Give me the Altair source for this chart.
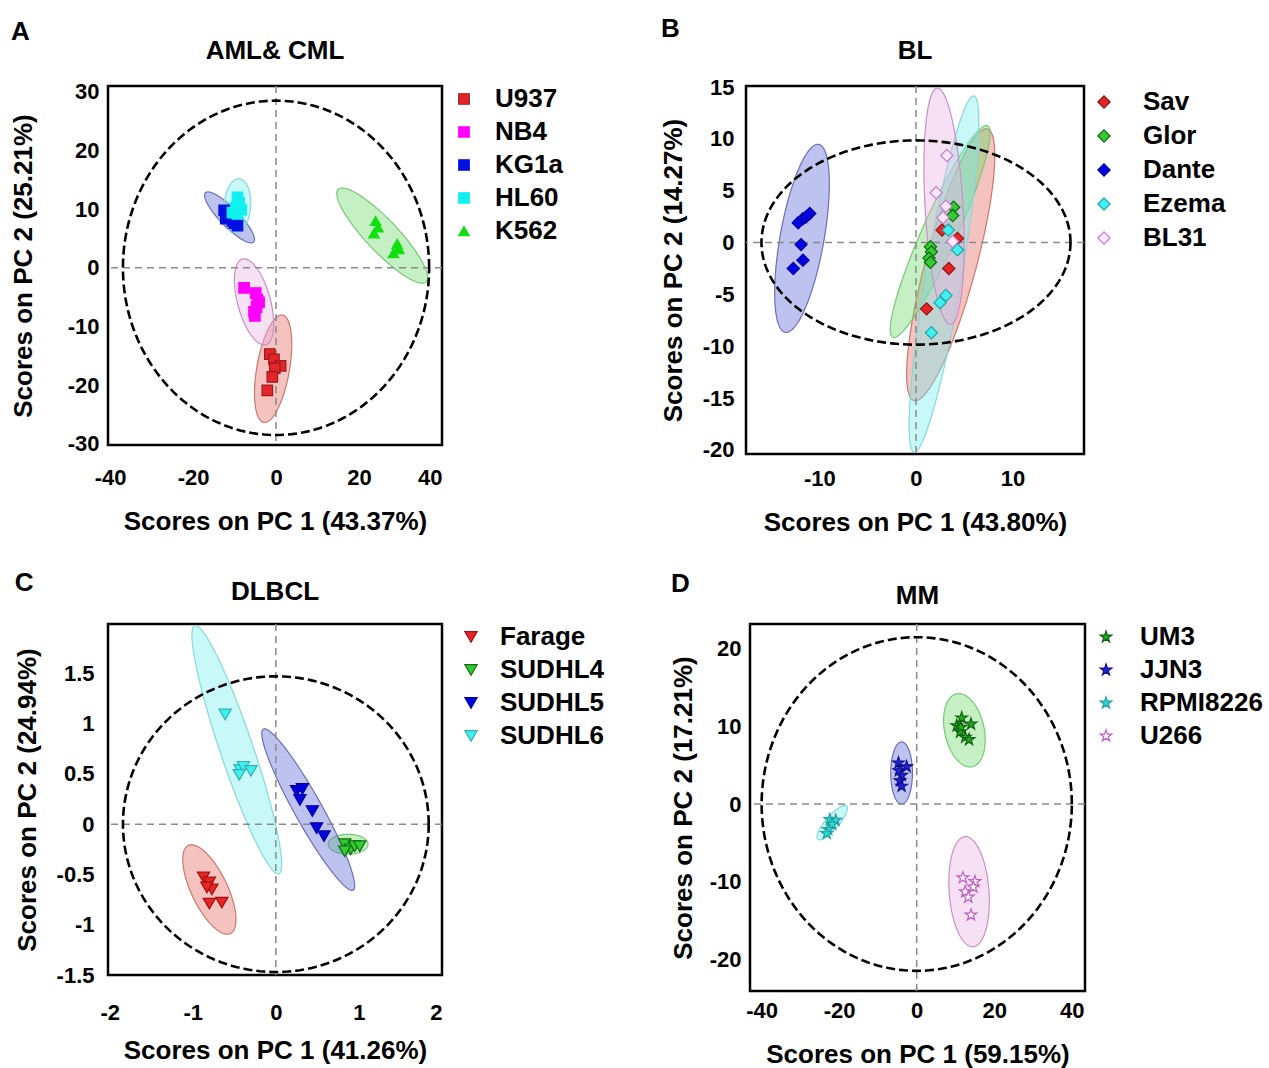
import altair as alt
import numpy as np
import pandas as pd

FONT = "Liberation Sans"

# ---------------- Panel A : AML & CML ----------------
A_groups = ["U937", "NB4", "KG1a", "HL60", "K562"]
A_U937_x = [-1.5, -0.5, 1.1, -0.3, -0.9, -2.1]
A_U937_y = [-14.7, -15.6, -16.7, -17.1, -18.6, -20.9]
A_NB4_x = [-7.7, -4.9, -4.5, -4.1, -4.7, -5.3, -5.1]
A_NB4_y = [-3.4, -4.3, -5.4, -5.9, -6.7, -7.5, -8.2]
A_KG1a_x = [-12.5, -11.6, -12.1, -10.5, -9.3, -10.0]
A_KG1a_y = [9.8, 9.2, 8.4, 8.0, 7.2, 7.6]
A_HL60_x = [-9.3, -8.9, -9.7, -8.4, -9.3, -10.5]
A_HL60_y = [12.0, 11.1, 10.3, 9.9, 9.2, 9.4]
A_K562_x = [24.0, 24.6, 23.6, 29.2, 29.6, 28.3]
A_K562_y = [8.0, 6.9, 5.9, 4.1, 3.2, 2.5]
# confidence ellipses: centre, major semi-axis vector, minor/major ratio
A_ell_cx = [-0.7, -5.3, -11.2, -9.3, 25.6]
A_ell_cy = [-17.2, -5.8, 8.6, 10.6, 5.5]
A_ell_ux = [2.25, -2.8, -5.8, 0.4, 10.6]
A_ell_uy = [9.15, 7.3, 4.2, 4.6, -7.9]
A_ell_ratio = [0.3, 0.37, 0.27, 0.49, 0.25]
A_outer = [36.9, 28.5]
A_xdom = [-40.5, 40]
A_ydom = [-30.2, 31]
A_xticks = [-40, -20, 0, 20, 40]
A_yticks = [-30, -20, -10, 0, 10, 20, 30]

# ---------------- Panel B : BL ----------------
B_groups = ["Sav", "Glor", "Dante", "Ezema", "BL31"]
B_Sav_x = [2.7, 4.3, 3.4, 1.1]
B_Sav_y = [1.2, 0.4, -2.5, -6.4]
B_Glor_x = [3.9, 3.8, 1.5, 1.6, 1.35, 1.5]
B_Glor_y = [3.4, 2.6, -0.4, -0.9, -1.5, -1.9]
B_Dante_x = [-12.2, -11.7, -11.4, -11.0, -11.9, -11.7, -12.7]
B_Dante_y = [1.9, 2.3, 2.45, 2.8, -0.2, -1.7, -2.5]
B_Ezema_x = [3.35, 4.3, 3.1, 2.5, 1.6]
B_Ezema_y = [1.2, -0.7, -5.1, -5.8, -8.7]
B_BL31_x = [3.2, 2.1, 3.1, 2.8, 3.8]
B_BL31_y = [8.4, 4.8, 3.5, 2.4, 0.1]
B_ell_cx = [3.6, 2.5, -11.8, 2.9, 2.9]
B_ell_cy = [-2.15, 1.06, 0.4, -3.05, 3.5]
B_ell_ux = [3.8, 4.9, 1.73, 3.1, -0.69]
B_ell_uy = [13.1, 10.2, 9.07, 17.2, 11.4]
B_ell_ratio = [0.18, 0.15, 0.23, 0.1, 0.16]
B_outer = [16.0, 9.85]
B_xdom = [-17.6, 17.4]
B_ydom = [-20.4, 15.1]
B_xticks = [-10, 0, 10]
B_yticks = [-20, -15, -10, -5, 0, 5, 10, 15]

# ---------------- Panel C : DLBCL ----------------
C_groups = ["Farage", "SUDHL4", "SUDHL5", "SUDHL6"]
C_Farage_x = [-0.87, -0.80, -0.77, -0.83, -0.80, -0.65]
C_Farage_y = [-0.53, -0.58, -0.65, -0.63, -0.79, -0.78]
C_SUDHL4_x = [0.83, 0.90, 0.95, 1.01, 0.83]
C_SUDHL4_y = [-0.20, -0.25, -0.22, -0.22, -0.27]
C_SUDHL5_x = [0.25, 0.32, 0.29, 0.44, 0.49, 0.58]
C_SUDHL5_y = [0.33, 0.35, 0.24, 0.13, -0.04, -0.12]
C_SUDHL6_x = [-0.61, -0.43, -0.39, -0.30, -0.44]
C_SUDHL6_y = [1.09, 0.54, 0.57, 0.53, 0.49]
C_ell_cx = [-0.80, 0.87, 0.39, -0.47]
C_ell_cy = [-0.65, -0.20, 0.145, 0.74]
C_ell_ux = [-0.253, 0.24, -0.54, -0.506]
C_ell_uy = [0.438, 0.0, 0.80, 1.234]
C_ell_ratio = [0.37, 0.5, 0.15, 0.126]
C_outer = [1.84, 1.47]
C_xdom = [-2.02, 2.0]
C_ydom = [-1.5, 1.99]
C_xticks = [-2, -1, 0, 1, 2]
C_yticks = [-1.5, -1, -0.5, 0, 0.5, 1, 1.5, 2]

# ---------------- Panel D : MM ----------------
D_groups = ["UM3", "JJN3", "RPMI8226", "U266"]
D_UM3_x = [11.6, 10.3, 14.0, 11.2, 12.5, 13.5, 11.4]
D_UM3_y = [11.1, 10.1, 10.3, 9.3, 8.6, 8.3, 9.9]
D_JJN3_x = [-4.7, -2.6, -4.6, -3.9, -4.3, -3.9]
D_JJN3_y = [5.3, 4.8, 4.3, 3.7, 3.0, 2.3]
D_RPMI8226_x = [-22.4, -20.9, -21.8, -22.8, -23.2]
D_RPMI8226_y = [-2.0, -2.1, -2.6, -3.3, -3.8]
D_U266_x = [11.9, 15.0, 14.6, 12.5, 13.3, 14.0]
D_U266_y = [-9.5, -10.0, -10.7, -11.3, -12.0, -14.3]
D_ell_cx = [12.3, -3.9, -21.8, 13.5]
D_ell_cy = [9.5, 4.0, -2.4, -11.3]
D_ell_ux = [-2.0, 0.0, 3.7, -1.03]
D_ell_uy = [4.7, 4.0, 2.15, 7.1]
D_ell_ratio = [0.53, 0.35, 0.3, 0.36]
D_outer = [40.0, 21.5]
D_xdom = [-43.0, 43.4]
D_ydom = [-24.1, 23.2]
D_xticks = [-40, -20, 0, 20, 40]
D_yticks = [-20, -10, 0, 10, 20]

STAR = ("M0,-1L0.2245,-0.309L0.951,-0.309L0.363,0.118L0.588,0.809L0,0.382"
        "L-0.588,0.809L-0.363,0.118L-0.951,-0.309L-0.2245,-0.309Z")

# pale ellipse colours (drawn at 0.4 opacity) and outlines
E_RED, S_RED = "#E5685E", "#C87870"
E_MAG, S_MAG = "#E8B2E4", "#C890C8"
E_BLU, S_BLU = "#5C66D4", "#6C70B0"
E_CYA, S_CYA = "#76EEEE", "#88D8D8"
E_GRN, S_GRN = "#6CD96C", "#78C878"

IND = dict(x="independent", y="independent", shape="independent",
           fill="independent", stroke="independent")


def ellipse_band(cx, cy, ux, uy, ratio, kx, ky, n=90):
    pux, puy = ux * kx, uy * ky
    vx, vy = (-puy * ratio) / kx, (pux * ratio) / ky
    R = np.hypot(ux, vx)
    phi = np.arctan2(vx, ux)
    s = np.linspace(0, np.pi, n)
    xs = cx + R * np.cos(s)
    t1, t2 = phi + s, phi - s
    y1 = cy + uy * np.cos(t1) + vy * np.sin(t1)
    y2 = cy + uy * np.cos(t2) + vy * np.sin(t2)
    return pd.DataFrame({"x": xs, "y": np.maximum(y1, y2), "y2": np.minimum(y1, y2)})


def make_panel(title, groups, xs, ys, ell, outer, xdom, ydom, xticks, yticks,
               xtitle, ytitle, width, height, shapes, fills, strokes, efills,
               estrokes, size, lay):
    kx = width / (xdom[1] - xdom[0])
    ky = height / (ydom[1] - ydom[0])
    xsc = alt.Scale(domain=xdom, nice=False, zero=False)
    ysc = alt.Scale(domain=ydom, nice=False, zero=False)
    xax = alt.Axis(values=xticks, title=xtitle, labelExpr="'' + datum.value",
                   labelPadding=lay["xlp"], titlePadding=lay["xtp"])
    yax = alt.Axis(values=yticks, title=ytitle, labelExpr="'' + datum.value",
                   labelPadding=lay["ylp"], titlePadding=lay["ytp"])
    layers = []
    cx, cy, ux, uy, rr = ell
    for i, g in enumerate(groups):
        band = ellipse_band(cx[i], cy[i], ux[i], uy[i], rr[i], kx, ky)
        layers.append(
            alt.Chart(band).mark_area(
                fill=efills[i], fillOpacity=0.4, stroke=estrokes[i],
                strokeWidth=1.2, clip=True
            ).encode(
                x=alt.X("x:Q", scale=xsc, axis=xax),
                y=alt.Y("y:Q", scale=ysc, axis=yax),
                y2="y2:Q",
            )
        )
    zero_v = pd.DataFrame({"x": [0]})
    zero_h = pd.DataFrame({"y": [0]})
    layers.append(alt.Chart(zero_v).mark_rule(color="#8a8a8a", strokeDash=[7, 5],
                                              strokeWidth=1.5).encode(x=alt.X("x:Q", scale=xsc)))
    layers.append(alt.Chart(zero_h).mark_rule(color="#8a8a8a", strokeDash=[7, 5],
                                              strokeWidth=1.5).encode(y=alt.Y("y:Q", scale=ysc)))
    t = np.linspace(0, 2 * np.pi, 241)
    circ = pd.DataFrame({"x": outer[0] * np.cos(t), "y": outer[1] * np.sin(t), "o": np.arange(len(t))})
    layers.append(alt.Chart(circ).mark_line(color="black", strokeDash=[9, 4], strokeWidth=2.6, clip=True)
                  .encode(x=alt.X("x:Q", scale=xsc), y=alt.Y("y:Q", scale=ysc), order="o:Q"))
    rows = []
    for g, gx, gy in zip(groups, xs, ys):
        for a, b in zip(gx, gy):
            rows.append({"x": a, "y": b, "group": g})
    pts = pd.DataFrame(rows)
    leg = alt.Legend(title=None, offset=lay["lo"], labelOffset=lay["llo"], rowPadding=lay["lrp"],
                     symbolSize=size, padding=lay["lpad"], labelFontSize=26,
                     labelFontWeight="bold", labelFont=FONT, labelColor="black",
                     symbolStrokeWidth=1.2, symbolOpacity=1)
    layers.append(
        alt.Chart(pts).mark_point(size=size, opacity=1, strokeWidth=1.2).encode(
            x=alt.X("x:Q", scale=xsc),
            y=alt.Y("y:Q", scale=ysc),
            shape=alt.Shape("group:N", scale=alt.Scale(domain=groups, range=shapes), legend=leg),
            fill=alt.Fill("group:N", scale=alt.Scale(domain=groups, range=fills), legend=leg),
            stroke=alt.Stroke("group:N", scale=alt.Scale(domain=groups, range=strokes), legend=leg),
        )
    )
    return alt.layer(*layers).properties(
        width=width, height=height,
        title=alt.Title(title, frame="group", anchor="middle", fontSize=26,
                        font=FONT, fontWeight="bold", offset=lay["to"]),
    )


def lettered(ch, letter, off):
    return alt.vconcat(ch, title=alt.Title(letter, anchor="start", frame="bounds", fontSize=26,
                                           font=FONT, fontWeight="bold", dx=2, offset=off)
                       ).resolve_scale(**IND)


pA = make_panel("AML& CML", A_groups,
                [A_U937_x, A_NB4_x, A_KG1a_x, A_HL60_x, A_K562_x],
                [A_U937_y, A_NB4_y, A_KG1a_y, A_HL60_y, A_K562_y],
                (A_ell_cx, A_ell_cy, A_ell_ux, A_ell_uy, A_ell_ratio), A_outer,
                A_xdom, A_ydom, A_xticks, A_yticks,
                "Scores on PC 1 (43.37%)", "Scores on PC 2 (25.21%)", 334, 359,
                ["square", "square", "square", "square", "triangle-up"],
                ["#E3262B", "#FF00FF", "#0010E0", "#10F0F0", "#10E010"],
                ["#A01818", "#FF00FF", "#0010E0", "#10F0F0", "#10E010"],
                [E_RED, E_MAG, E_BLU, E_CYA, E_GRN], [S_RED, S_MAG, S_BLU, S_CYA, S_GRN],
                110, dict(xlp=22, xtp=20, ylp=9, ytp=31, lo=9, llo=18, lrp=7, lpad=0, to=17))

pB = make_panel("BL", B_groups,
                [B_Sav_x, B_Glor_x, B_Dante_x, B_Ezema_x, B_BL31_x],
                [B_Sav_y, B_Glor_y, B_Dante_y, B_Ezema_y, B_BL31_y],
                (B_ell_cx, B_ell_cy, B_ell_ux, B_ell_uy, B_ell_ratio), B_outer,
                B_xdom, B_ydom, B_xticks, B_yticks,
                "Scores on PC 1 (43.80%)", "Scores on PC 2 (14.27%)", 338, 368,
                ["diamond"] * 5,
                ["#E82525", "#33CC33", "#0000E6", "#40F0F0", "#FBE6FB"],
                ["#901010", "#106610", "#0000A0", "#20A8A8", "#C080C8"],
                [E_RED, E_GRN, E_BLU, E_CYA, E_MAG], [S_RED, S_GRN, S_BLU, S_CYA, S_MAG],
                150, dict(xlp=14, xtp=20, ylp=12, ytp=16, lo=4, llo=26, lrp=8, lpad=3, to=12))

pC = make_panel("DLBCL", C_groups,
                [C_Farage_x, C_SUDHL4_x, C_SUDHL5_x, C_SUDHL6_x],
                [C_Farage_y, C_SUDHL4_y, C_SUDHL5_y, C_SUDHL6_y],
                (C_ell_cx, C_ell_cy, C_ell_ux, C_ell_uy, C_ell_ratio), C_outer,
                C_xdom, C_ydom, C_xticks, C_yticks,
                "Scores on PC 1 (41.26%)", "Scores on PC 2 (24.94%)", 334, 351,
                ["triangle-down"] * 4,
                ["#E82525", "#30CC30", "#0000E0", "#40F0F0"],
                ["#A01010", "#106A10", "#0000A0", "#30B0B0"],
                [E_RED, E_GRN, E_BLU, E_CYA], [S_RED, S_GRN, S_BLU, S_CYA],
                150, dict(xlp=27, xtp=14, ylp=14, ytp=16, lo=16, llo=16, lrp=7, lpad=0, to=18))

pD = make_panel("MM", D_groups,
                [D_UM3_x, D_JJN3_x, D_RPMI8226_x, D_U266_x],
                [D_UM3_y, D_JJN3_y, D_RPMI8226_y, D_U266_y],
                (D_ell_cx, D_ell_cy, D_ell_ux, D_ell_uy, D_ell_ratio), D_outer,
                D_xdom, D_ydom, D_xticks, D_yticks,
                "Scores on PC 1 (59.15%)", "Scores on PC 2 (17.21%)", 335, 367,
                [STAR] * 4,
                ["#22AA22", "#2222DD", "#30D8D8", "#FFFFFF"],
                ["#106010", "#10108A", "#20A0A0", "#C060C0"],
                [E_GRN, E_BLU, E_CYA, E_MAG], [S_GRN, S_BLU, S_CYA, S_MAG],
                150, dict(xlp=9, xtp=20, ylp=9, ytp=13, lo=8, llo=21, lrp=7, lpad=0, to=14))

row1 = alt.hconcat(lettered(pA, "A", -8), lettered(pB, "B", -5), spacing=93).resolve_scale(**IND)
row2 = alt.hconcat(lettered(pC, "C", -18), lettered(pD, "D", -15), spacing=61).resolve_scale(**IND)

chart = alt.concat(row1, row2, columns=1, align="none", spacing=33).resolve_scale(**IND).properties(
    padding={"left": 8, "top": 15, "right": 0, "bottom": 0}
).configure_view(
    stroke="black", strokeWidth=2.5
).configure_axis(
    grid=False, domain=False, ticks=False,
    labelFont=FONT, labelFontSize=22, labelFontWeight="bold", labelColor="black",
    titleFont=FONT, titleFontSize=26, titleFontWeight="bold", titleColor="black",
)

chart.save("out.html", embed_options={"renderer": "svg", "actions": False})
